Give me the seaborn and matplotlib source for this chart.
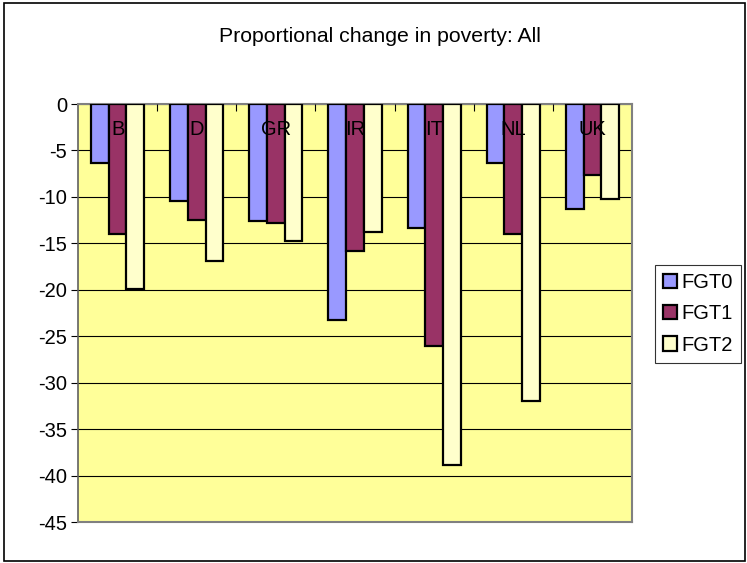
import numpy as np
import pandas as pd
import matplotlib

matplotlib.use('Agg')
import matplotlib.pyplot as plt
import seaborn as sns
from matplotlib.patches import Rectangle
from matplotlib.ticker import FixedLocator

countries = ['B', 'D', 'GR', 'IR', 'IT', 'NL', 'UK']
fgt0 = [-6.4, -10.4, -12.6, -23.3, -13.3, -6.4, -11.3]
fgt1 = [-14.0, -12.5, -12.8, -15.8, -26.0, -14.0, -7.6]
fgt2 = [-19.9, -16.9, -14.7, -13.8, -38.9, -32.0, -10.2]
series = ['FGT0', 'FGT1', 'FGT2']
colors = ['#9999FF', '#993366', '#FFFFCC']

df = pd.DataFrame({
    'country': countries * 3,
    'series': [s for s in series for _ in countries],
    'value': fgt0 + fgt1 + fgt2,
})


def plot():
    sns.set_style('white')
    plt.rcParams['font.family'] = ['Liberation Sans', 'DejaVu Sans']
    plt.rcParams['axes.unicode_minus'] = False
    for key in ['text.color', 'axes.labelcolor', 'xtick.color', 'ytick.color']:
        plt.rcParams[key] = 'black'
    fs = 14.5
    fig = plt.figure(figsize=(7.47, 5.63), dpi=100)
    ax = fig.add_axes([78 / 747, 1 - 522 / 563, (632 - 78) / 747, (522 - 104) / 563])
    ax.set_facecolor('#FFFF99')

    sns.barplot(data=df, x='country', y='value', hue='series', palette=colors,
                width=0.67, saturation=1, edgecolor='black', linewidth=1.6,
                ax=ax, zorder=3)

    ax.set_xlim(-0.5, len(countries) - 0.5)
    ax.set_ylim(-45, 0)
    ax.set_yticks(np.arange(-45, 1, 5))
    ax.yaxis.grid(True, color='black', linewidth=0.8)
    ax.set_axisbelow(True)
    ax.xaxis.set_zorder(5)
    ax.set_xlabel('')
    ax.set_ylabel('')

    ax.tick_params(axis='y', direction='out', left=True, length=5, width=0.8,
                   color='black', labelsize=fs, pad=3)
    ax.tick_params(axis='x', which='major', bottom=False, top=False,
                   labelbottom=False, labeltop=True, labelsize=fs, pad=-29)
    ax.xaxis.set_minor_locator(FixedLocator(np.arange(0.5, len(countries) - 1, 1)))
    ax.tick_params(axis='x', which='minor', bottom=False, top=True,
                   direction='in', length=5, width=0.8, color='black')

    for side in ['top', 'right', 'bottom']:
        ax.spines[side].set_color('#808080')
        ax.spines[side].set_linewidth(1.5)
    ax.spines['left'].set_color('#606060')
    ax.spines['left'].set_linewidth(1.2)

    handles, labels = ax.get_legend_handles_labels()
    ax.legend_.remove()
    leg = fig.legend(handles, labels, loc='center left',
                     bbox_to_anchor=(655 / 747, 1 - 314 / 563), borderaxespad=0,
                     frameon=True, fancybox=False, edgecolor='black',
                     fontsize=fs, handlelength=0.7, handleheight=0.7,
                     handletextpad=0.2, labelspacing=0.6, borderpad=0.4)
    leg.get_frame().set_linewidth(0.8)

    fig.text(380 / 747, 1 - 37 / 563, 'Proportional change in poverty: All',
             ha='center', va='center', fontsize=15.3)

    fig.patches.append(Rectangle((4 / 747, 2 / 563), 741 / 747, 558 / 563,
                                 transform=fig.transFigure, fill=False,
                                 edgecolor='black', linewidth=1.2))
    fig.savefig('out.png', dpi=100)


if __name__ == '__main__':
    plot()
